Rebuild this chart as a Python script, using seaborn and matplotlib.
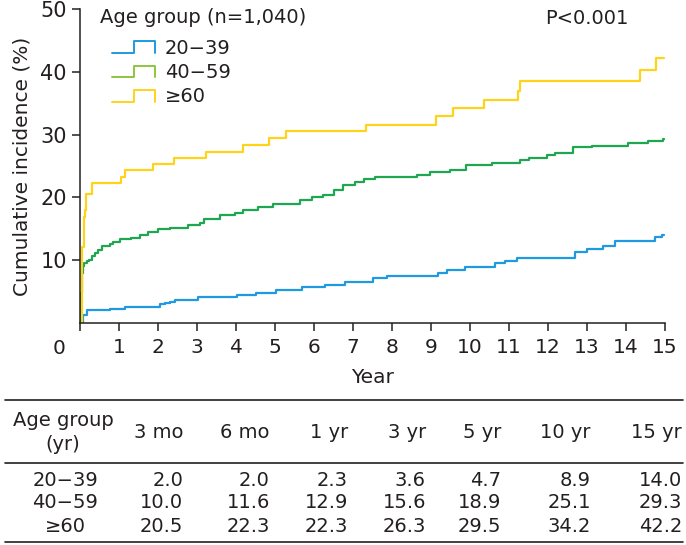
import matplotlib
matplotlib.use("Agg")
import matplotlib.pyplot as plt
import seaborn as sns
import pandas as pd
from matplotlib.lines import Line2D
from matplotlib.legend_handler import HandlerBase

# --- data ---
groups = ["20\u221239", "40\u221259", "\u226560"]

t_young = [0, 0.07, 0.17, 0.77, 1.15, 2.05, 2.18, 2.31, 2.44, 3.03, 4.02, 4.5, 5.02, 5.68,
           6.28, 6.79, 7.52, 7.86, 9.19, 9.4, 9.87, 10.64, 10.9, 11.2, 12.69, 12.99, 13.42,
           13.72, 14.74, 14.93, 14.98]
v_young = [0, 1.3, 2.0, 2.3, 2.6, 3.0, 3.2, 3.4, 3.6, 4.1, 4.4, 4.7, 5.2, 5.8,
           6.0, 6.6, 7.1, 7.5, 7.9, 8.4, 8.9, 9.5, 9.9, 10.4, 11.3, 11.8, 12.3,
           13.1, 13.7, 14.0, 14.0]

t_mid = [0, 0.03, 0.05, 0.07, 0.1, 0.17, 0.22, 0.3, 0.38, 0.45, 0.56, 0.77, 0.85, 1.02,
         1.32, 1.54, 1.74, 2.0, 2.31, 2.77, 3.08, 3.18, 3.59, 3.97, 4.19, 4.57, 4.96, 5.64,
         5.94, 6.24, 6.5, 6.75, 7.05, 7.27, 7.56, 8.63, 8.97, 9.49, 9.91, 10.56, 11.28, 11.5,
         11.97, 12.18, 12.65, 13.12, 14.06, 14.57, 14.96, 14.98]
v_mid = [0, 4.7, 7.9, 9.0, 9.6, 9.8, 10.0, 10.6, 11.1, 11.6, 12.2, 12.6, 12.9, 13.4,
         13.6, 14.0, 14.5, 15.0, 15.2, 15.6, 15.9, 16.5, 17.2, 17.5, 18.0, 18.5, 18.9, 19.6,
         20.1, 20.4, 21.2, 22.0, 22.5, 22.9, 23.3, 23.6, 24.1, 24.4, 25.1, 25.4, 26.0, 26.3,
         26.8, 27.0, 28.0, 28.2, 28.6, 29.0, 29.3, 29.3]

t_old = [0, 0.04, 0.1, 0.13, 0.15, 0.32, 1.04, 1.15, 1.88, 2.41, 3.23, 4.19, 4.85, 5.28,
         7.33, 9.13, 9.57, 10.36, 11.24, 11.28, 14.36, 14.76, 14.98]
v_old = [0, 12.1, 16.9, 18.0, 20.5, 22.3, 23.3, 24.3, 25.3, 26.3, 27.3, 28.4, 29.5, 30.6,
         31.6, 33.0, 34.2, 35.5, 37.0, 38.5, 40.3, 42.2, 42.2]

line_colors = ["#1f9ae0", "#1ea650", "#ffd31a"]
legend_colors = ["#1f9ae0", "#8cc63f", "#ffd31a"]

# table below the plot
table_cols = ["3 mo", "6 mo", "1 yr", "3 yr", "5 yr", "10 yr", "15 yr"]
table_young = [2.0, 2.0, 2.3, 3.6, 4.7, 8.9, 14.0]
table_mid = [10.0, 11.6, 12.9, 15.6, 18.9, 25.1, 29.3]
table_old = [20.5, 22.3, 22.3, 26.3, 29.5, 34.2, 42.2]

df = pd.concat([
    pd.DataFrame({"year": t, "incidence": v, "group": g})
    for t, v, g in zip([t_young, t_mid, t_old], [v_young, v_mid, v_old], groups)
])

sns.set_style("ticks")
plt.rcParams["font.family"] = ["DejaVu Sans"]
ink = "#231f20"

W, H = 686, 545
fig = plt.figure(figsize=(W / 100, H / 100), dpi=100)
ax = fig.add_axes([80 / W, 1 - 323 / H, 585 / W, 314 / H])

sns.lineplot(data=df, x="year", y="incidence", hue="group", palette=dict(zip(groups, line_colors)),
             drawstyle="steps-post", estimator=None, sort=False, legend=False,
             linewidth=1.6, ax=ax)

ax.set_xlim(0, 15)
ax.set_ylim(0, 50)
ax.set_xticks(range(16))
ax.set_xticklabels([""] + [str(i) for i in range(1, 16)])
ax.set_yticks([10, 20, 30, 40, 50])
sns.despine(ax=ax)
for s in ["left", "bottom"]:
    ax.spines[s].set_color(ink)
    ax.spines[s].set_linewidth(1.1)
ax.tick_params(axis="both", direction="out", length=5.5, width=1.1, color=ink, labelcolor=ink)
ax.tick_params(axis="x", labelsize=14.5, pad=5)
ax.tick_params(axis="y", labelsize=15, pad=4)
ax.annotate("0", xy=(0, 0), xycoords="axes fraction", xytext=(-21, -25),
            textcoords="offset pixels", ha="center", va="center", fontsize=14.5, color=ink)
ax.set_xlabel("Year", fontsize=14.5, color=ink, labelpad=8)
ax.set_ylabel("Cumulative incidence (%)", fontsize=14.5, color=ink, labelpad=6)
ax.text(0.867, 0.97, "P<0.001", transform=ax.transAxes, ha="center", va="center",
        fontsize=14, color=ink)
ax.text(0.034, 0.972, "Age group (n=1,040)", transform=ax.transAxes, ha="left", va="center",
        fontsize=14, color=ink)


class StepHandler(HandlerBase):
    def create_artists(self, legend, orig_handle, xdescent, ydescent, width, height, fontsize, trans):
        x0 = -xdescent + 0.22 * width
        x1 = -xdescent + 0.61 * width
        x2 = -xdescent + width
        ylo = -ydescent + 0.05 * height
        yhi = -ydescent + 0.9 * height
        ln = Line2D([x0, x1, x1, x2, x2], [ylo, ylo, yhi, yhi, ylo],
                    color=orig_handle.get_color(), lw=1.4)
        ln.set_transform(trans)
        return [ln]


handles = [Line2D([], [], color=c) for c in legend_colors]
leg = ax.legend(handles, groups, loc="upper left",
                bbox_to_anchor=(0.034, 0.906), frameon=False, borderpad=0, borderaxespad=0,
                handlelength=2.85, handletextpad=0.5, labelspacing=0.28, fontsize=14,
                handler_map={Line2D: StepHandler()})
for txt in leg.get_texts():
    txt.set_color(ink)

# table
def fx(px):
    return px / W


def fy(py):
    return 1 - py / H


for py in [400, 463, 542]:
    fig.add_artist(Line2D([fx(5), fx(683)], [fy(py), fy(py)], color=ink, lw=1.2))

fs = 14
fig.text(fx(63), fy(420), "Age group", ha="center", va="center", fontsize=fs, color=ink)
fig.text(fx(63), fy(445), "(yr)", ha="center", va="center", fontsize=fs, color=ink)
col_right = [183, 270, 348, 426, 501, 591, 682]
for xr, lab in zip(col_right, table_cols):
    fig.text(fx(xr), fy(433), lab, ha="right", va="center", fontsize=fs, color=ink)
for py, g, vals in zip([480, 503, 527], groups, [table_young, table_mid, table_old]):
    fig.text(fx(65), fy(py), g, ha="center", va="center", fontsize=fs, color=ink)
    for xr, v in zip(col_right, vals):
        fig.text(fx(xr), fy(py), f"{v:.1f}", ha="right", va="center", fontsize=fs, color=ink)

fig.savefig("out.png", dpi=100)
